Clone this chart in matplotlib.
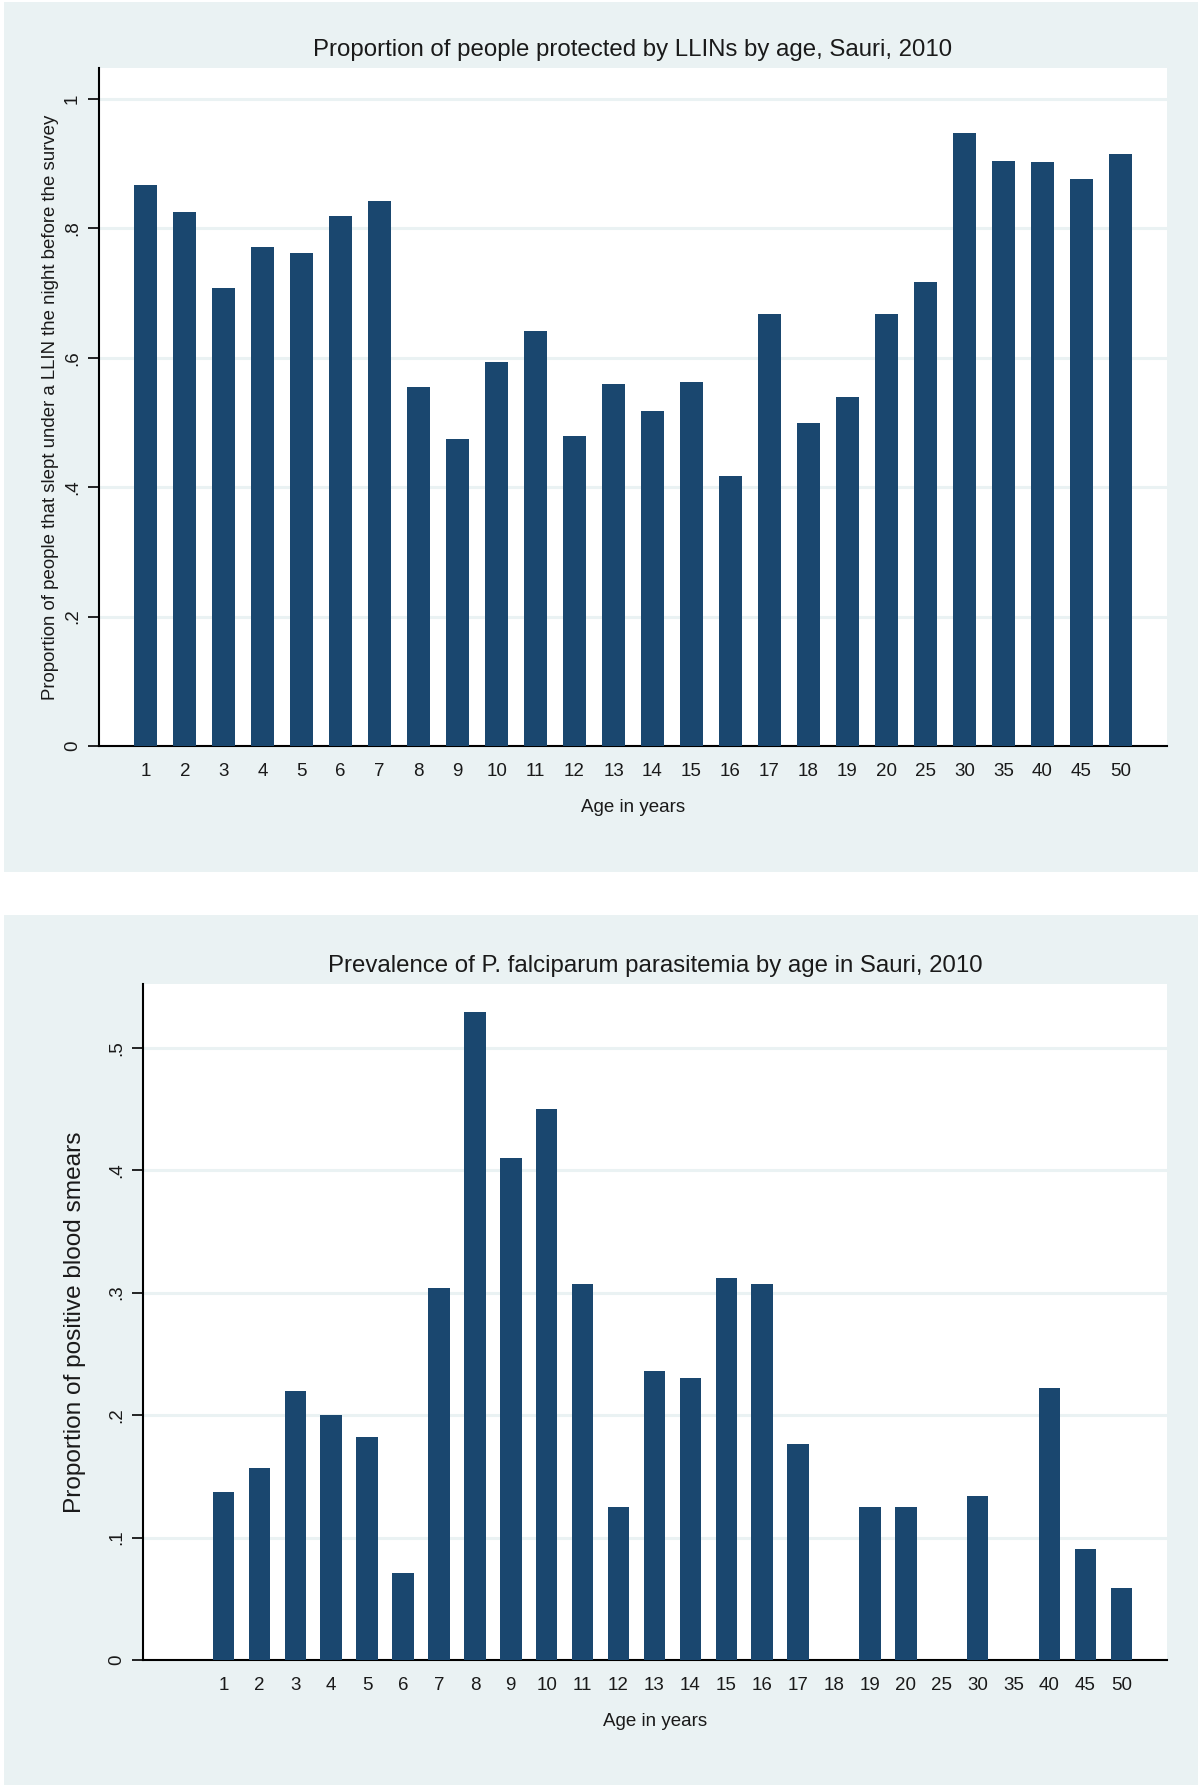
import matplotlib.pyplot as plt
from matplotlib.patches import Rectangle

plt.rcParams['font.family'] = ['Liberation Sans', 'DejaVu Sans']

# data
age_labels = ['1', '2', '3', '4', '5', '6', '7', '8', '9', '10', '11', '12', '13',
              '14', '15', '16', '17', '18', '19', '20', '25', '30', '35', '40', '45', '50']

llin_prop = [0.867, 0.826, 0.708, 0.771, 0.762, 0.820, 0.843, 0.555, 0.475, 0.593,
             0.641, 0.479, 0.560, 0.518, 0.562, 0.417, 0.667, 0.500, 0.539, 0.667,
             0.717, 0.947, 0.905, 0.903, 0.877, 0.915]

pf_prev = [0.137, 0.157, 0.220, 0.200, 0.182, 0.071, 0.304, 0.529, 0.410, 0.450,
           0.307, 0.125, 0.236, 0.230, 0.312, 0.307, 0.176, 0.0, 0.125, 0.125,
           0.0, 0.134, 0.0, 0.222, 0.091, 0.059]

top_ticks = [0, 0.2, 0.4, 0.6, 0.8, 1.0]
top_ticklabels = ['0', '.2', '.4', '.6', '.8', '1']
bot_ticks = [0, 0.1, 0.2, 0.3, 0.4, 0.5]
bot_ticklabels = ['0', '.1', '.2', '.3', '.4', '.5']

BAR = '#1A476F'
BG = '#EAF2F3'
TXT = '#1a1a1a'

W, H = 1200, 1785
fig = plt.figure(figsize=(W / 100, H / 100), dpi=100)
fig.patch.set_facecolor('white')


def px_axes(left, top, right, bottom):
    return fig.add_axes([left / W, 1 - bottom / H, (right - left) / W, (bottom - top) / H])


def panel_bg(left, top, right, bottom):
    fig.add_artist(Rectangle((left / W, 1 - bottom / H), (right - left) / W,
                             (bottom - top) / H, transform=fig.transFigure,
                             facecolor=BG, edgecolor='none', zorder=-5))


def style(ax, ticks, ticklabels, ymax, xlim):
    ax.set_facecolor('white')
    ax.set_ylim(0, ymax)
    ax.set_xlim(*xlim)
    ax.set_yticks(ticks)
    ax.set_yticklabels(ticklabels, rotation=90, va='center', fontsize=13.5, color=TXT)
    ax.yaxis.grid(True, color=BG, linewidth=2.2)
    ax.set_axisbelow(True)
    for s in ['top', 'right']:
        ax.spines[s].set_visible(False)
    for s in ['left', 'bottom']:
        ax.spines[s].set_linewidth(1.5)
        ax.spines[s].set_color('black')
    ax.tick_params(axis='y', length=8, width=1.2, pad=5)
    ax.tick_params(axis='x', length=0, pad=12, labelsize=13.5, labelcolor=TXT)


# top panel
panel_bg(4, 2, 1198, 872)
ax1 = px_axes(99, 68, 1167, 746)
x = list(range(len(age_labels)))
ax1.bar(x, llin_prop, width=0.6, color=BAR, zorder=3)
style(ax1, top_ticks, top_ticklabels, 1.048, (-1.2, 25 + 1.2))
ax1.set_xticks(x)
ax1.set_xticklabels(age_labels)
ax1.set_title('Proportion of people protected by LLINs by age, Sauri, 2010',
              fontsize=17.3, color=TXT, pad=9)
ax1.set_xlabel('Age in years', fontsize=13.5, color=TXT, labelpad=14)
ax1.set_ylabel('Proportion of people that slept under a LLIN the night before the survey',
               fontsize=13.4, color=TXT, labelpad=3.5)

# bottom panel
panel_bg(4, 915, 1198, 1785)
ax2 = px_axes(143, 984, 1167, 1660)
ax2.bar(x, pf_prev, width=0.6, color=BAR, zorder=3)
style(ax2, bot_ticks, bot_ticklabels, 0.552, (-2.24, 25 + 1.27))
ax2.set_xticks(x)
ax2.set_xticklabels(age_labels)
ax2.set_title('Prevalence of P. falciparum parasitemia by age in Sauri, 2010',
              fontsize=17.3, color=TXT, pad=9)
ax2.set_xlabel('Age in years', fontsize=13.5, color=TXT, labelpad=14)
ax2.set_ylabel('Proportion of positive blood smears', fontsize=17.6, color=TXT, labelpad=16)

fig.savefig('out.png', dpi=100, facecolor='white')
